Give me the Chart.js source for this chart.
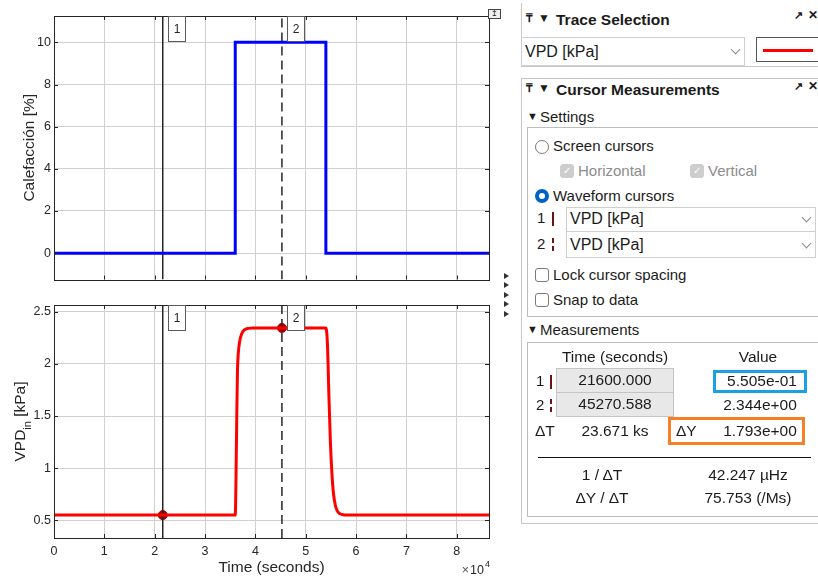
<!DOCTYPE html>
<html>
<head>
<meta charset="utf-8">
<script src="https://cdn.jsdelivr.net/npm/chart.js@4.4.1/dist/chart.umd.min.js"></script>
<style>
  body { margin: 0; width: 818px; height: 577px; overflow: hidden; background: #fff; position: relative;
         font-family: "Liberation Sans", Arial, sans-serif; color: #1b1b1b; }
  canvas { position: absolute; left: 0; }
  #topChart { top: 0; }
  #bottomChart { top: 290px; }
  .a { position: absolute; }
  .t { position: absolute; white-space: nowrap; line-height: 20px; height: 20px; font-size: 15px; }
  .c { text-align: center; width: 200px; }
  .b { font-weight: bold; font-size: 15.5px; }
  .frame { position: absolute; box-sizing: border-box; }
  .chev { position: absolute; width: 6px; height: 6px; border-right: 1px solid #8a8a8a; border-bottom: 1px solid #8a8a8a; transform: rotate(45deg); }
  .radio { position: absolute; width: 14px; height: 14px; box-sizing: border-box; border-radius: 50%; background: #fff; border: 1px solid #7a7a7a; }
  .check { position: absolute; width: 14px; height: 14px; box-sizing: border-box; border-radius: 3px; background: #fff; border: 1px solid #7a7a7a; }
  .dis { background: #cdcdcd; border-color: #cdcdcd; color: #fff; font-size: 10px; line-height: 12px; text-align: center; }
  .tri { position: absolute; width: 0; height: 0; border-left: 5px solid #333; border-top: 3px solid transparent; border-bottom: 3px solid transparent; }
  .gray { background: #e8e8e8; border: 1px solid #c4c4c4; }
</style>
</head>
<body>
<canvas id="topChart" width="515" height="290"></canvas>
<canvas id="bottomChart" width="515" height="287"></canvas>

<!-- small figure widgets -->
<div class="frame" style="left:488px;top:9px;width:13px;height:10px;border:1px solid #444;background:#eee;font-size:8px;line-height:8px;text-align:center;">↥</div>
<div class="tri" style="left:504px;top:273px"></div>
<div class="tri" style="left:504px;top:282px"></div>
<div class="tri" style="left:504px;top:292px"></div>
<div class="tri" style="left:504px;top:301px"></div>
<div class="tri" style="left:504px;top:311px"></div>

<!-- Trace Selection panel -->
<div class="frame" style="left:521px;top:3px;width:300px;height:64px;border-left:1px solid #c6c6c6;border-bottom:1px solid #c6c6c6;"></div>
<div class="t" style="left:526px;top:8px;font-size:12px;font-weight:bold">₸</div>
<div class="t" style="left:538px;top:8px;font-size:12px">▼</div>
<div class="t b" style="left:556px;top:9.5px">Trace Selection</div>
<div class="t" style="left:794px;top:5px;font-size:11px;font-weight:bold">↗</div>
<div class="t" style="left:808px;top:5px;font-size:12px;font-weight:bold">✕</div>
<div class="frame" style="left:521px;top:37px;width:224px;height:29px;border:1px solid #cfcfcf;background:#fff"></div>
<div class="t" style="left:525px;top:42px;font-size:16px">VPD [kPa]</div>
<div class="chev" style="left:732px;top:46px"></div>
<div class="frame" style="left:756px;top:37px;width:80px;height:25px;border:1px solid #555;background:#fff"></div>
<div class="a" style="left:763px;top:48.5px;width:50px;height:3px;background:#ff0000"></div>

<!-- Cursor Measurements panel -->
<div class="frame" style="left:521px;top:78px;width:320px;height:446px;border:1px solid #c6c6c6;"></div>
<div class="t" style="left:526px;top:78px;font-size:12px;font-weight:bold">₸</div>
<div class="t" style="left:538px;top:78px;font-size:12px">▼</div>
<div class="t b" style="left:556px;top:79.5px">Cursor Measurements</div>
<div class="t" style="left:794px;top:76px;font-size:11px;font-weight:bold">↗</div>
<div class="t" style="left:808px;top:76px;font-size:12px;font-weight:bold">✕</div>

<div class="t" style="left:527px;top:106px;font-size:11px">▼</div>
<div class="t" style="left:540px;top:106.5px">Settings</div>
<div class="frame" style="left:527px;top:127px;width:300px;height:190px;border:1px solid #bdbdbd;"></div>
<div class="radio" style="left:535px;top:139.5px"></div>
<div class="t" style="left:553px;top:136px">Screen cursors</div>
<div class="check dis" style="left:560px;top:164px">✓</div>
<div class="t" style="left:578px;top:161px;color:#8c8c8c">Horizontal</div>
<div class="check dis" style="left:690px;top:164px">✓</div>
<div class="t" style="left:708px;top:161px;color:#8c8c8c">Vertical</div>
<div class="radio" style="left:535px;top:189px;border:4px solid #0062c4"></div>
<div class="t" style="left:553px;top:186px">Waveform cursors</div>
<div class="t" style="left:537px;top:208px">1</div>
<div class="a" style="left:552px;top:212px;width:1.5px;height:14px;background:#6b1414"></div>
<div class="frame" style="left:566px;top:207px;width:250px;height:25px;border:1px solid #cfcfcf;background:#fff"></div>
<div class="t" style="left:570px;top:209px;font-size:16px">VPD [kPa]</div>
<div class="chev" style="left:803px;top:214px"></div>
<div class="t" style="left:537px;top:234px">2</div>
<div class="a" style="left:552px;top:238px;width:1.5px;height:5px;background:#6b1414"></div>
<div class="a" style="left:552px;top:246px;width:1.5px;height:5px;background:#6b1414"></div>
<div class="frame" style="left:566px;top:231px;width:250px;height:27px;border:1px solid #cfcfcf;background:#fff"></div>
<div class="t" style="left:570px;top:235px;font-size:16px">VPD [kPa]</div>
<div class="chev" style="left:803px;top:240px"></div>
<div class="check" style="left:535px;top:268px"></div>
<div class="t" style="left:553px;top:265px">Lock cursor spacing</div>
<div class="check" style="left:535px;top:293px"></div>
<div class="t" style="left:553px;top:290px">Snap to data</div>

<div class="t" style="left:527px;top:319px;font-size:11px">▼</div>
<div class="t" style="left:540px;top:320px">Measurements</div>
<div class="frame" style="left:527px;top:342px;width:300px;height:175px;border:1px solid #bdbdbd;"></div>
<div class="t c" style="left:515px;top:347px;font-size:15.5px">Time (seconds)</div>
<div class="t c" style="left:658px;top:347px;font-size:15.5px">Value</div>

<div class="t" style="left:536px;top:371px">1</div>
<div class="a" style="left:550px;top:375px;width:1.5px;height:14px;background:#6b1414"></div>
<div class="frame gray" style="left:556px;top:368px;width:118px;height:25px"></div>
<div class="t c" style="left:515px;top:370px;font-size:15.5px">21600.000</div>
<div class="frame" style="left:713px;top:370px;width:94px;height:23px;border:3px solid #1ba1e2"></div>
<div class="t c" style="left:662px;top:371px;font-size:15.5px">5.505e-01</div>

<div class="t" style="left:536px;top:395px">2</div>
<div class="a" style="left:550px;top:399px;width:1.5px;height:5px;background:#6b1414"></div>
<div class="a" style="left:550px;top:407px;width:1.5px;height:5px;background:#6b1414"></div>
<div class="frame gray" style="left:556px;top:392px;width:118px;height:25px"></div>
<div class="t c" style="left:515px;top:394px;font-size:15.5px">45270.588</div>
<div class="t c" style="left:660px;top:395px;font-size:15.5px">2.344e+00</div>

<div class="t" style="left:535px;top:421px;font-size:15.5px">ΔT</div>
<div class="t c" style="left:515px;top:421px;font-size:15.5px">23.671 ks</div>
<div class="frame" style="left:668px;top:417px;width:137px;height:28px;border:3px solid #f58025"></div>
<div class="t" style="left:676px;top:421px;font-size:15.5px">ΔY</div>
<div class="t c" style="left:660px;top:421px;font-size:15.5px">1.793e+00</div>

<div class="a" style="left:538px;top:456.5px;width:273px;height:1.5px;background:#111"></div>
<div class="t c" style="left:502px;top:465px;font-size:15.5px">1 / ΔT</div>
<div class="t c" style="left:648px;top:465px;font-size:15.5px">42.247 µHz</div>
<div class="t c" style="left:502px;top:488px;font-size:15.5px">ΔY / ΔT</div>
<div class="t c" style="left:648px;top:488px;font-size:15.5px">75.753 (/Ms)</div>

<script>
  // eje de tiempo (s), ticks en unidades de 1e4
  const timeRange = [0, 86400];
  const timeTicks = [0, 10000, 20000, 30000, 40000, 50000, 60000, 70000, 80000];
  const timeTickLabels = ['0', '1', '2', '3', '4', '5', '6', '7', '8'];

  // calefacción [%]
  const heatTime = [0, 36000, 54000, 86400];
  const heatValue = [0, 10, 0, 0];
  const heatRange = [-1.25, 11.25];
  const heatTicks = [0, 2, 4, 6, 8, 10];
  const heatTickLabels = ['0', '2', '4', '6', '8', '10'];

  // VPD interior [kPa]
  const vpdTime = [0, 36000, 36150, 36300, 36450, 36600, 36900, 37300, 37800, 38600, 39500,
                   54000, 54300, 54600, 54900, 55200, 55500, 55900, 56400, 57200, 58500, 86400];
  const vpdValue = [0.5505, 0.5505, 0.9, 1.5, 1.95, 2.1, 2.22, 2.29, 2.325, 2.34, 2.344,
                    2.344, 2.2, 1.7, 1.25, 0.95, 0.76, 0.64, 0.58, 0.556, 0.5505, 0.5505];
  const vpdRange = [0.331, 2.564];
  const vpdTicks = [0.5, 1, 1.5, 2, 2.5];
  const vpdTickLabels = ['0.5', '1', '1.5', '2', '2.5'];

  // cursores
  const cursorNames = ['1', '2'];
  const cursorTime = [21600, 45270.588];
  const cursorValue = [0.5505, 2.344];

  const ink = '#262626';
  const gridColor = '#d0d0d0';
  const fam = '"Liberation Sans", Arial, sans-serif';
  Chart.defaults.font.family = fam;
  Chart.defaults.color = ink;

  const pts = (xs, ys) => xs.map((x, i) => ({ x: x, y: ys[i] }));

  // caja, marcas interiores y etiquetas de cursor
  const framePlugin = {
    id: 'frame',
    afterDatasetsDraw(chart) {
      const { ctx, chartArea: a, scales: { x, y } } = chart;
      ctx.save();
      ctx.strokeStyle = ink;
      ctx.lineWidth = 1;
      ctx.beginPath();
      x.ticks.forEach(t => {
        const px = Math.round(x.getPixelForValue(t.value)) + 0.5;
        ctx.moveTo(px, a.bottom); ctx.lineTo(px, a.bottom - 4);
        ctx.moveTo(px, a.top); ctx.lineTo(px, a.top + 4);
      });
      y.ticks.forEach(t => {
        const py = Math.round(y.getPixelForValue(t.value)) + 0.5;
        ctx.moveTo(a.left, py); ctx.lineTo(a.left + 4, py);
        ctx.moveTo(a.right, py); ctx.lineTo(a.right - 4, py);
      });
      ctx.stroke();
      ctx.strokeRect(Math.round(a.left) + 0.5, Math.round(a.top) + 0.5,
                     Math.round(a.right - a.left), Math.round(a.bottom - a.top));

      cursorTime.forEach((c, i) => {
        const px = Math.round(x.getPixelForValue(c));
        ctx.fillStyle = '#fff';
        ctx.strokeStyle = '#5a5a5a';
        ctx.fillRect(px + 5.5, a.top + 0.5, 17, 25);
        ctx.strokeRect(px + 5.5, a.top + 0.5, 17, 25);
        ctx.fillStyle = ink;
        ctx.font = '12px ' + fam;
        ctx.textAlign = 'center';
        ctx.textBaseline = 'middle';
        ctx.fillText(cursorNames[i], px + 14, a.top + 13.5);
      });
      ctx.restore();
    }
  };

  // título vertical (con subíndice opcional)
  function yTitlePlugin(parts, baseX) {
    return {
      id: 'yTitle',
      afterDraw(chart) {
        const { ctx, chartArea: a } = chart;
        const big = '15.5px ' + fam;
        const small = '11px ' + fam;
        ctx.save();
        ctx.fillStyle = ink;
        ctx.textBaseline = 'alphabetic';
        ctx.textAlign = 'left';
        const widths = parts.map(p => { ctx.font = p.sub ? small : big; return ctx.measureText(p.text).width; });
        let pos = -widths.reduce((s, w) => s + w, 0) / 2;
        ctx.translate(baseX, (a.top + a.bottom) / 2);
        ctx.rotate(-Math.PI / 2);
        parts.forEach((p, i) => {
          ctx.font = p.sub ? small : big;
          ctx.fillText(p.text, pos, p.sub ? 6 : 0);
          pos += widths[i];
        });
        ctx.restore();
      }
    };
  }

  // factor x10^4
  const expPlugin = {
    id: 'exp',
    afterDraw(chart) {
      const { ctx, chartArea: a } = chart;
      ctx.save();
      ctx.fillStyle = ink;
      ctx.textAlign = 'right';
      ctx.textBaseline = 'alphabetic';
      ctx.font = '9px ' + fam;
      ctx.fillText('4', a.right + 1, 277);
      ctx.font = '12.5px ' + fam;
      ctx.fillText('10', a.right - 5, 284);
      const w10 = ctx.measureText('10').width;
      ctx.fillStyle = '#555';
      ctx.fillText('×', a.right - 6 - w10, 284);
      ctx.restore();
    }
  };

  function timeAxis(showLabels, height) {
    return {
      type: 'linear',
      min: timeRange[0],
      max: timeRange[1],
      afterBuildTicks: s => { s.ticks = timeTicks.map(v => ({ value: v })); },
      afterFit: s => { s.height = height; },
      grid: { color: gridColor, drawTicks: false },
      border: { display: false },
      ticks: {
        display: showLabels,
        padding: 6,
        font: { size: 12.5 },
        callback: (v, i) => timeTickLabels[i]
      },
      title: {
        display: showLabels,
        text: 'Time (seconds)',
        font: { size: 15.5 },
        padding: { top: 0, bottom: 0 }
      }
    };
  }

  function valueAxis(range, tickVals, tickLabels) {
    return {
      min: range[0],
      max: range[1],
      afterBuildTicks: s => { s.ticks = tickVals.map(v => ({ value: v })); },
      afterFit: s => { s.width = 54; },
      grid: { color: gridColor, drawTicks: false },
      border: { display: false },
      ticks: { padding: 3, font: { size: 12.5 }, callback: (v, i) => tickLabels[i] }
    };
  }

  function cursorSets(range) {
    return cursorTime.map((c, i) => ({
      data: [{ x: c, y: range[0] }, { x: c, y: range[1] }],
      borderColor: ink,
      borderWidth: 1.5,
      borderDash: i === 1 ? [9, 5] : [],
      pointRadius: 0
    }));
  }

  const commonOpts = {
    responsive: false,
    animation: false,
    events: [],
    plugins: { legend: { display: false }, tooltip: { enabled: false } }
  };

  new Chart(document.getElementById('topChart'), {
    type: 'line',
    data: {
      datasets: [
        {
          data: pts(heatTime, heatValue),
          stepped: true,
          borderColor: '#0000ff',
          borderWidth: 3,
          pointRadius: 0
        },
        ...cursorSets(heatRange)
      ]
    },
    options: {
      ...commonOpts,
      layout: { padding: { top: 16, right: 26, left: 0, bottom: 0 } },
      scales: {
        x: timeAxis(false, 9),
        y: valueAxis(heatRange, heatTicks, heatTickLabels)
      }
    },
    plugins: [framePlugin, yTitlePlugin([{ text: 'Calefacción [%]' }], 34)]
  });

  new Chart(document.getElementById('bottomChart'), {
    type: 'line',
    data: {
      datasets: [
        {
          data: pts(vpdTime, vpdValue),
          cubicInterpolationMode: 'monotone',
          borderColor: '#ff0000',
          borderWidth: 3,
          pointRadius: 0
        },
        ...cursorSets(vpdRange),
        {
          data: pts(cursorTime, cursorValue),
          showLine: false,
          pointRadius: 4.5,
          pointBackgroundColor: '#a30000',
          pointBorderColor: '#a30000'
        }
      ]
    },
    options: {
      ...commonOpts,
      layout: { padding: { top: 15, right: 26, left: 0, bottom: 0 } },
      scales: {
        x: timeAxis(true, 39),
        y: valueAxis(vpdRange, vpdTicks, vpdTickLabels)
      }
    },
    plugins: [framePlugin, expPlugin,
              yTitlePlugin([{ text: 'VPD' }, { text: 'in', sub: true }, { text: ' [kPa]' }], 25)]
  });
</script>
</body>
</html>
